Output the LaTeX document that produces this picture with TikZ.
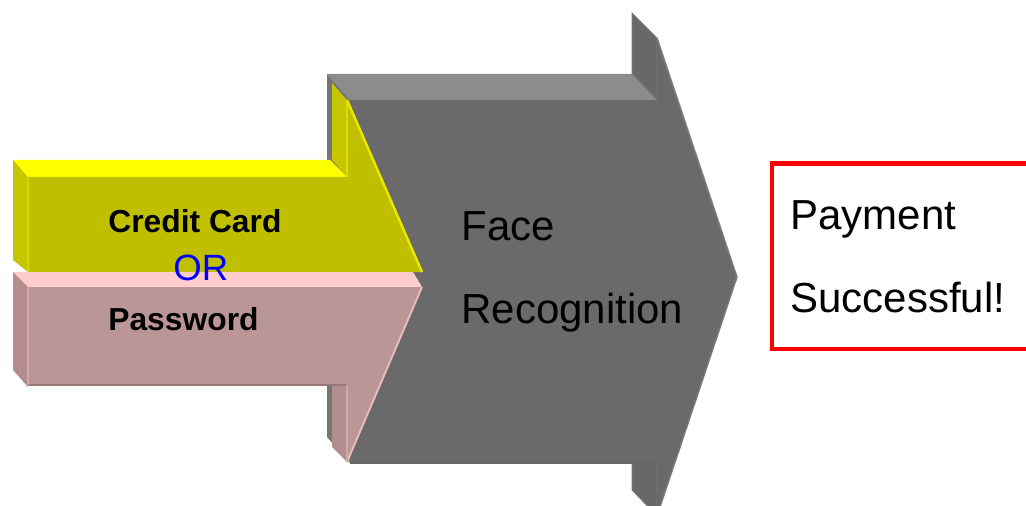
\documentclass[tikz,border=0pt]{standalone}
\usepackage{fontspec}
\setmainfont{Liberation Sans}
\definecolor{grayface}{HTML}{6A6A6A}
\definecolor{graytop}{HTML}{8C8C8C}
\definecolor{grayside}{HTML}{757575}
\definecolor{graynotch}{HTML}{686868}
\definecolor{grayedge}{HTML}{7C7C7C}
\definecolor{yellowface}{HTML}{BFBF00}
\definecolor{yellowtop}{HTML}{FFFF00}
\definecolor{yellowside}{HTML}{C6C600}
\definecolor{yellowedge}{HTML}{E8E800}
\definecolor{pinkface}{HTML}{BB9696}
\definecolor{pinktop}{HTML}{FFCCCC}
\definecolor{pinkside}{HTML}{B38D8D}
\definecolor{pinkedge}{HTML}{E8BABA}
\definecolor{boxred}{HTML}{FF0000}
\definecolor{orblue}{HTML}{0000FF}
\tikzset{
  facetxt/.style={anchor=base west, inner sep=0pt, text=black},
  bigtxt/.style={facetxt, font=\fontsize{23.9}{28}\selectfont},
  boldtxt/.style={facetxt, font=\fontsize{18.1}{22}\selectfont\bfseries},
}
\begin{document}
\begin{tikzpicture}[x=0.02cm, y=-0.02cm]
  \clip (0,0) rectangle (1026,506);
  \fill[white] (0,0) rectangle (1026,506);

  % grey block arrow: bevels behind, then front face
  \fill[graytop] (327,74) -- (632,74) -- (657,100) -- (350,100) -- cycle;
  \fill[grayside] (327,74) -- (350,100) -- (350,463) -- (327,437) -- cycle;
  \fill[graynotch, draw=grayedge, line width=0.5pt] (632,13) -- (657,38) -- (657,100) -- (632,74) -- cycle;
  \fill[graynotch, draw=grayedge, line width=0.5pt] (632,463) -- (657,463) -- (657,516) -- (632,490) -- cycle;
  \fill[grayface] (350,100) -- (657,100) -- (657,38) -- (737,277) -- (657,516) -- (657,463) -- (350,463) -- cycle;
  \draw[grayedge, line width=0.8pt] (657,38) -- (737,277) -- (657,516);
  \draw[black!60, line width=0.9pt] (350,463) -- (657,463);

  % yellow block arrow
  \fill[yellowtop] (13,160) -- (330,160) -- (347,177) -- (28,177) -- cycle;
  \fill[yellowside] (13,160) -- (28,177) -- (28,272) -- (13,260) -- cycle;
  \fill[yellowside] (332,83) -- (347,100) -- (347,177) -- (332,160) -- cycle;
  \fill[yellowface] (28,177) -- (347,177) -- (347,100) -- (422,272) -- (28,272) -- cycle;
  \draw[yellowedge, line width=1.4pt] (347,100) -- (422,272);
  \draw[yellowedge!70!yellowside, line width=0.6pt] (347,100) -- (347,177);
  \draw[yellowedge!50!yellowside, line width=0.6pt] (28,177) -- (28,272);

  % pink block arrow
  \fill[pinktop] (13,272) -- (413,272) -- (422,287) -- (28,287) -- cycle;
  \fill[pinkside] (13,272) -- (28,287) -- (28,387) -- (13,370) -- cycle;
  \fill[pinkside] (332,385) -- (347,385) -- (347,462) -- (332,447) -- cycle;
  \fill[pinkface] (28,287) -- (422,287) -- (347,462) -- (347,385) -- (28,385) -- cycle;
  \draw[pinkedge, line width=1.1pt] (422,287) -- (347,462);
  \draw[pinkside!85!black, line width=0.9pt] (28,385) -- (347,385);
  \draw[pinkedge!60!pinkside, line width=0.6pt] (347,385) -- (347,462);
  \draw[pinkedge!60!pinkside, line width=0.6pt] (28,287) -- (28,385);

  % labels
  \node[boldtxt] (credit) at (108,233) {Credit Card};
  \node[facetxt, text=orblue, font=\fontsize{20.8}{24}\selectfont] (or) at (173,280) {OR};
  \node[boldtxt] (password) at (108,330) {Password};
  \node[bigtxt] (face) at (461,240) {Face};
  \node[bigtxt] (recog) at (461,323) {Recognition};

  % result box
  \draw[boxred, line width=2.3pt] (772,163.5) rectangle (1040,349);
  \node[bigtxt] (payment) at (790,230) {Payment};
  \node[bigtxt] (success) at (790,312) {Successful!};
\end{tikzpicture}
\end{document}
